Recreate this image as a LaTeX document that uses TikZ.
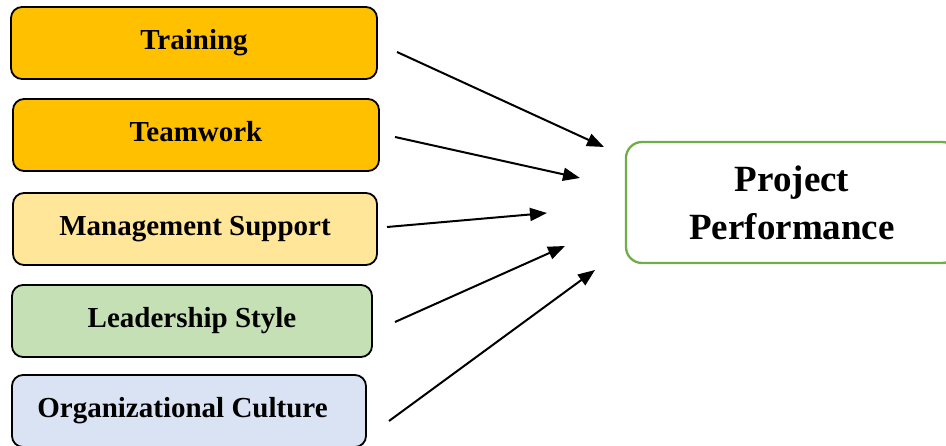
\documentclass[tikz,border=0pt]{standalone}
\usepackage{fontspec}
\setmainfont{Liberation Serif}
\usetikzlibrary{arrows.meta}
\definecolor{orangeA}{HTML}{FFC000}
\definecolor{yellowA}{HTML}{FFE699}
\definecolor{greenA}{HTML}{C5E0B4}
\definecolor{blueA}{HTML}{DAE3F3}
\definecolor{greenB}{HTML}{70AD47}
\begin{document}
\begin{tikzpicture}[x=1pt,y=-1pt,
  label text/.style={font=\bfseries\fontsize{29}{34}\selectfont,text height=20pt,text depth=6.4pt},
  factor/.style={draw=black,line width=1.8pt,rounded corners=11pt,inner sep=0pt,
    minimum height=72pt,label text},
  outcome/.style={draw=greenB,line width=2.3pt,rounded corners=16pt,inner sep=0pt,
    minimum height=121pt,minimum width=332pt,align=center,
    font=\bfseries\fontsize{37}{48}\selectfont},
  link/.style={line width=2pt,-{Triangle[length=17pt,width=13pt]}}]
\useasboundingbox (0,0) rectangle (946,446);
\clip (0,0) rectangle (946,446);
\node[factor,fill=orangeA,minimum width=366pt] (tr) at (194,43) {Training};
\node[factor,fill=orangeA,minimum width=366pt] (tw) at (196,135) {Teamwork};
\node[factor,fill=yellowA,minimum width=364pt] (ms) at (195,229) {Management Support};
\node[factor,fill=greenA,minimum width=360pt] (ls) at (192,321) {Leadership Style};
\node[factor,fill=blueA,minimum width=354pt] (oc) at (189,411) {};
\node[label text,inner sep=0pt] (oct) at (182.5,410.5) {Organizational Culture};
\node[outcome] (pp) at (792,202.5) {Project\\Performance};
\coordinate (s1) at (397,52);  \coordinate (e1) at (604,147);
\coordinate (s2) at (395,137); \coordinate (e2) at (580,178);
\coordinate (s3) at (387,227); \coordinate (e3) at (547,213);
\coordinate (s4) at (395,322); \coordinate (e4) at (565,246);
\coordinate (s5) at (389,421); \coordinate (e5) at (595,270);
\draw[link] (s1) -- (e1);
\draw[link] (s2) -- (e2);
\draw[link] (s3) -- (e3);
\draw[link] (s4) -- (e4);
\draw[link] (s5) -- (e5);
\end{tikzpicture}
\end{document}
